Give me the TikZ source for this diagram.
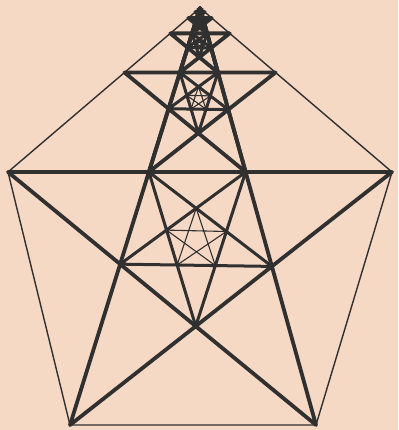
\documentclass[tikz,border=0pt]{standalone}
\usetikzlibrary{calc}

\definecolor{peach}{HTML}{F6D9C5}
\definecolor{ink}{HTML}{303030}

\tikzset{
  rim/.style={ink, line width=1.4pt, line join=round},
  bigstar/.style={ink, line width=3.8pt, line join=round},
  midstar/.style={ink, line width=3pt, line join=round},
  thinstar/.style={ink, line width=1.1pt, line join=round},
}

\begin{document}
\begin{tikzpicture}[x=1pt,y=-1pt]
\fill[peach] (0,0) rectangle (398,430);
\useasboundingbox (0,0) rectangle (398,430);

\coordinate (T) at (200,8);
\coordinate (L) at (8,172);
\coordinate (R) at (392,172);
\coordinate (BL) at (70,425);
\coordinate (BR) at (316,425);

% outer rim
\draw[rim] (T) -- (L) -- (BL) -- (BR) -- (R) -- cycle;

% each level shrinks towards the top corner
\foreach \f in {1,0.3933,0.1547,0.0608,0.0239,0.0094} {
  \coordinate (P1) at (T);
  \coordinate (P2) at ($(T)!\f!(L)$);
  \coordinate (P3) at ($(T)!\f!(BL)$);
  \coordinate (P4) at ($(T)!\f!(BR)$);
  \coordinate (P5) at ($(T)!\f!(R)$);
  \draw[bigstar] (P1) -- (P3) -- (P5) -- (P2) -- (P4) -- cycle;

  % inner pentagon, upside down
  \coordinate (A) at (intersection of P1--P3 and P2--P5);
  \coordinate (B) at (intersection of P1--P4 and P2--P5);
  \coordinate (C) at (intersection of P1--P4 and P5--P3);
  \coordinate (D) at (intersection of P2--P4 and P5--P3);
  \coordinate (E) at (intersection of P1--P3 and P2--P4);
  \draw[midstar] (A) -- (C) -- (E) -- (B) -- (D) -- cycle;

  % innermost star, thin
  \coordinate (J1) at (intersection of A--C and B--E);
  \coordinate (J2) at (intersection of B--E and A--D);
  \coordinate (J3) at (intersection of A--D and C--E);
  \coordinate (J4) at (intersection of C--E and B--D);
  \coordinate (J5) at (intersection of B--D and A--C);
  \draw[thinstar] (J1) -- (J3) -- (J5) -- (J2) -- (J4) -- cycle;
}
\end{tikzpicture}
\end{document}
